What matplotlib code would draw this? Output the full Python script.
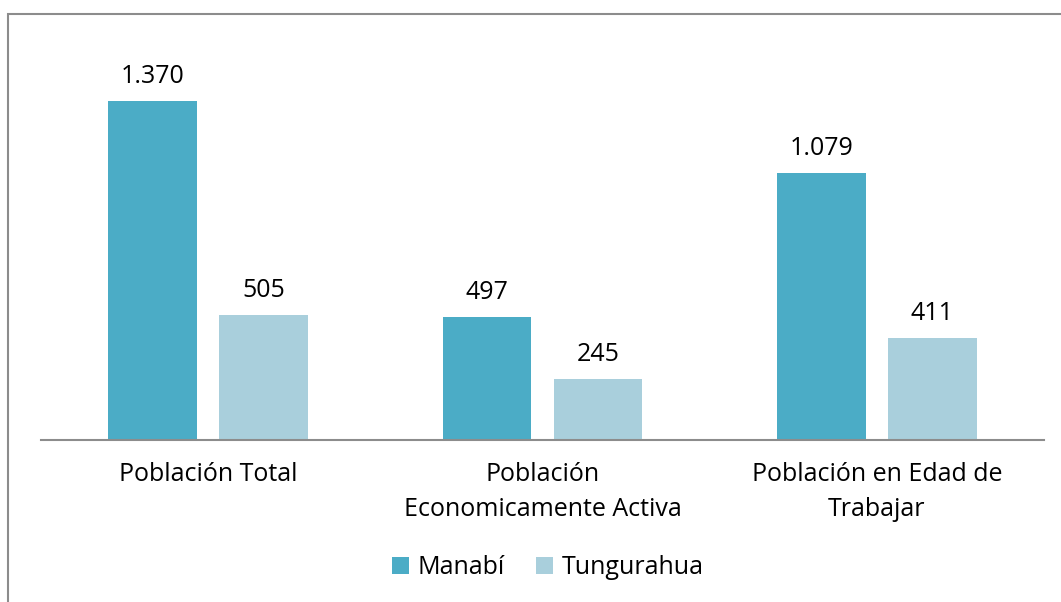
import matplotlib.pyplot as plt
import matplotlib.patches as patches
import numpy as np

categories = ['Población Total', 'Población\nEconomicamente Activa', 'Población en Edad de\nTrabajar']
manabi = [1370, 497, 1079]
tungurahua = [505, 245, 411]
manabi_labels = ['1.370', '497', '1.079']
tungurahua_labels = ['505', '245', '411']

plt.rcParams['font.family'] = ['Open Sans', 'DejaVu Sans']
fs = 18

fig = plt.figure(figsize=(10.61, 6.02), dpi=100)
ax = fig.add_axes([41 / 1061, 1 - 440 / 602, 1003 / 1061, 400 / 602])

x = np.arange(len(categories))
w = 0.266
off = 0.166
b1 = ax.bar(x - off, manabi, w, color='#4BACC6', label='Manabí')
b2 = ax.bar(x + off, tungurahua, w, color='#A9CFDC', label='Tungurahua')

for bars, labs in ((b1, manabi_labels), (b2, tungurahua_labels)):
    for rect, lab in zip(bars, labs):
        ax.annotate(lab, (rect.get_x() + rect.get_width() / 2, rect.get_height()),
                    xytext=(0, 9), textcoords='offset points',
                    ha='center', va='bottom', fontsize=fs)

ax.set_xlim(-0.5, 2.5)
ax.set_ylim(0, 1617)
ax.set_xticks(x)
ax.set_xticklabels(categories, fontsize=fs, linespacing=1.5)
ax.tick_params(axis='x', length=0, pad=16)
ax.set_yticks([])
for s in ['top', 'right', 'left']:
    ax.spines[s].set_visible(False)
ax.spines['bottom'].set_color('#8c8c8c')
ax.spines['bottom'].set_linewidth(1.5)

fig.legend(loc='center', bbox_to_anchor=(548 / 1061, 1 - 568 / 602), ncol=2,
           frameon=False, fontsize=fs, handlelength=0.67, handleheight=0.67,
           handletextpad=0.37, columnspacing=1.25)

border = patches.Rectangle((8 / 1061, -0.1), 1.2, 1 - 14 / 602 + 0.1,
                           transform=fig.transFigure, fill=False,
                           edgecolor='#8c8c8c', linewidth=1.5)
fig.add_artist(border)

fig.savefig('out.png', dpi=100)
